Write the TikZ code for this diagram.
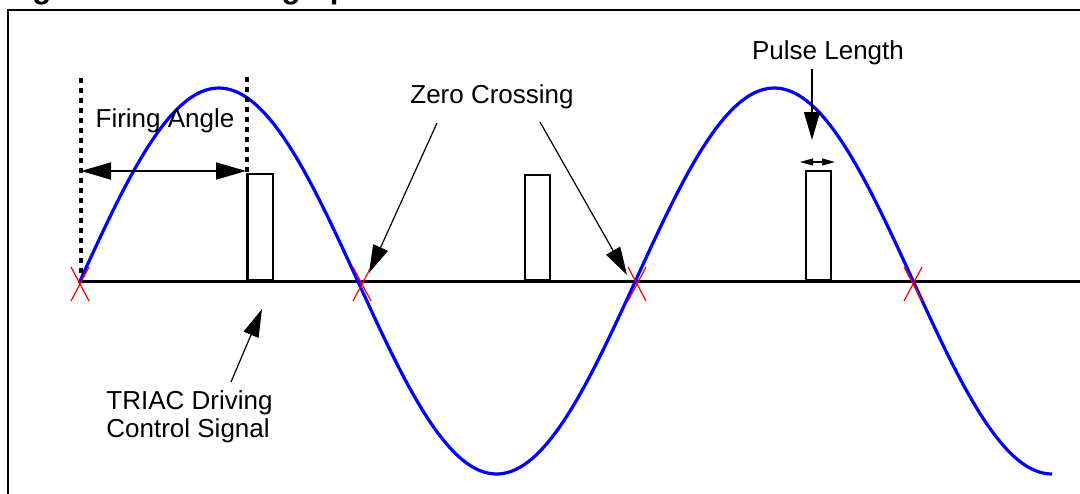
\documentclass[tikz,border=0pt]{standalone}
\usepackage{fontspec}
\setmainfont{Liberation Sans}
\usetikzlibrary{arrows.meta}
\begin{document}
\begin{tikzpicture}[x=0.5pt,y=-0.5pt,
  lbl/.style={font=\fontsize{13}{14}\selectfont, inner sep=0pt},
  callout/.style={line width=0.6pt, -{Triangle[length=14pt,width=8pt]}},
  pulsebox/.style={draw, line width=1pt, inner sep=0pt, minimum width=12.5pt, anchor=south west},
  guide/.style={line width=1.6pt, dash pattern=on 2.5pt off 2.5pt},
  zc/.style={red, line width=0.6pt},
  wave/.style={blue, line width=1.6pt},
  frame/.style={line width=1.1pt},
  axisline/.style={line width=1.5pt}]
\useasboundingbox (0,0) rectangle (1080,493);
\clip (0,0) rectangle (1080,493);
% clipped title (only descenders visible)
\node[font=\bfseries\fontsize{15.5}{16}\selectfont, anchor=base west, inner sep=0pt] (title) at (4.4,-1.5) {Figure 10. Control graph};
% frame
\coordinate (fbl) at (8,500);
\coordinate (ftl) at (8,10);
\coordinate (ftr) at (1085,10);
\draw[frame] (fbl) -- (ftl) -- (ftr);
% axis
\coordinate (a0) at (78,281);
\coordinate (a1) at (1080,281);
\draw[axisline] (a0) -- (a1);
% sine wave
\draw[wave] plot[domain=80:1052, samples=240, smooth] (\x, {281-193*sin(((\x-80)/277.7)*180)});
% zero crossing marks
\foreach \cx/\nm in {80/z0, 362/z1, 637/z2, 913/z3}{
  \coordinate (\nm) at (\cx,281);
  \draw[zc] (\cx-9,267) -- (\cx+9,301);
  \draw[zc] (\cx-9,301) -- (\cx+9,267);
}
% pulses
\node[pulsebox, minimum height=53pt] (p1) at (247,281) {};
\node[pulsebox, minimum height=52.5pt] (p2) at (524,281) {};
\node[pulsebox, minimum height=54.5pt] (p3) at (805,281) {};
\draw[line width=1.5pt] (p1.south west) -- (p1.north west);
% firing angle guides
\coordinate (g0t) at (81,78);
\coordinate (g0b) at (81,276);
\coordinate (g1t) at (247,77);
\draw[guide] (g0t) -- (g0b);
\draw[guide] (g1t) -- (p1.north west);
\coordinate (fa0) at (81,171);
\coordinate (fa1) at (246,171);
\draw[line width=1pt, {Triangle[length=15pt,width=8.5pt]}-{Triangle[length=15pt,width=8.5pt]}] (fa0) -- (fa1);
\node[lbl, anchor=base] (fal) at (165,127) {Firing Angle};
% zero crossing label
\node[lbl, anchor=base] (zcl) at (492,103) {Zero Crossing};
\coordinate (zc1s) at (437,123);
\coordinate (zc2s) at (540,122);
\coordinate (zc1t) at (369,273);
\coordinate (zc2t) at (627,275);
\draw[callout] (zc1s) -- (zc1t);
\draw[callout] (zc2s) -- (zc2t);
% pulse length
\node[lbl, anchor=base] (pll) at (828,59) {Pulse Length};
\coordinate (pls) at (812,69);
\coordinate (plt) at (812,140);
\draw[callout] (pls) -- (plt);
\coordinate (pw0) at (800,162);
\coordinate (pw1) at (835,162);
\draw[line width=0.6pt, {Triangle[length=6.5pt,width=3.5pt]}-{Triangle[length=6.5pt,width=3.5pt]}] (pw0) -- (pw1);
% TRIAC label
\node[lbl, align=left, anchor=north west] (tl) at (106,390) {TRIAC Driving\\Control Signal};
\coordinate (ts) at (231,382);
\coordinate (tt) at (262,309);
\draw[callout] (ts) -- (tt);
\end{tikzpicture}
\end{document}
